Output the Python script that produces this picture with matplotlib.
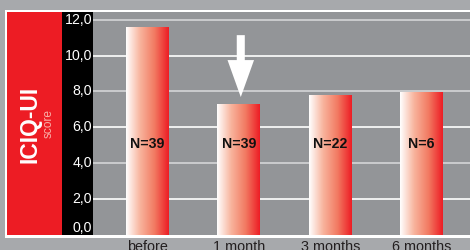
import numpy as np
import matplotlib
matplotlib.use("Agg")
import matplotlib.pyplot as plt
import matplotlib.transforms as mtransforms
from matplotlib.colors import LinearSegmentedColormap
from matplotlib.patches import Rectangle, FancyArrow

categories = ["before", "1 month", "3 months", "6 months"]
values = [11.55, 7.25, 7.75, 7.92]
n_labels = ["N=39", "N=39", "N=22", "N=6"]
yticks = [0, 2, 4, 6, 8, 10, 12]
ytick_labels = ["0,0", "2,0", "4,0", "6,0", "8,0", "10,0", "12,0"]

W, H = 470, 250
RED = "#ed1c24"
plt.rcParams["font.family"] = ["Liberation Sans", "DejaVu Sans"]

fig = plt.figure(figsize=(W / 100, H / 100), dpi=100)
fig.patch.set_facecolor("#a7a9ac")

def px(x0, y0, x1, y1):
    return [x0 / W, 1 - y1 / H, (x1 - x0) / W, (y1 - y0) / H]

def frect(x0, y0, x1, y1, color):
    b = px(x0, y0, x1, y1)
    fig.patches.append(Rectangle((b[0], b[1]), b[2], b[3], transform=fig.transFigure,
                                 facecolor=color, edgecolor="none", zorder=0))

frect(5, 10, 472, 237.5, "white")
frect(7.5, 12, 62, 235, RED)
frect(62, 12, 93, 235, "black")

ax = fig.add_axes(px(93, 12, 472, 235))
ax.set_zorder(5)
ax.set_facecolor("#939598")
for s in ax.spines.values():
    s.set_visible(False)

x = np.arange(len(categories))

# gridlines
for v in yticks[1:]:
    col = "white" if v in (2, 6, 10) else "#d4d5d7"
    ax.axhline(v, color=col, lw=1.2, zorder=1)

bars = ax.bar(x, values, width=0.47, color="none", zorder=2)
cmap = LinearSegmentedColormap.from_list("g", ["#ffffff", "#f8b39c", "#f27a62", RED])
grad = np.linspace(0, 1, 256).reshape(1, -1)
for b in bars:
    x0, y0 = b.get_x(), b.get_y()
    ax.imshow(grad, cmap=cmap, aspect="auto", interpolation="bicubic",
              extent=(x0, x0 + b.get_width(), y0, y0 + b.get_height()), zorder=3)
ax.set_xlim(-0.597, 3.55)
ax.set_ylim(0, 12.43)

for xi, lab in zip(x, n_labels):
    ax.text(xi, 5.1, lab, ha="center", va="center", fontsize=10.2,
            fontweight="bold", color="#111111", zorder=4)

# arrow
ax.add_patch(FancyArrow(1.02, 11.14, 0, 7.69 - 11.14, width=0.088, head_width=0.29,
                        head_length=2.06, length_includes_head=True,
                        facecolor="white", edgecolor="none", zorder=5))

ax.set_xticks(x)
ax.set_xticklabels(categories, fontsize=10.4, color="#231f20")
ax.tick_params(axis="x", length=0, pad=3.5)
ax.set_yticks([])

# y tick labels in black panel
trans = mtransforms.blended_transform_factory(fig.transFigure, ax.transData)
for v, lab in zip(yticks, ytick_labels):
    yy = max(v, 0.38)
    ax.text(92 / W, yy, lab, transform=trans, ha="right", va="center",
            fontsize=10.2, color="white", clip_on=False)

fig.text(30 / W, 1 - 124 / H, "ICIQ-UI", rotation=90, ha="center", va="center",
         fontsize=16.5, fontweight="bold", color="white")
fig.text(49 / W, 1 - 123 / H, "score", rotation=90, ha="center", va="center",
         fontsize=8.6, color="#f9b0a8")

fig.savefig("out.png", dpi=100, facecolor=fig.get_facecolor())
